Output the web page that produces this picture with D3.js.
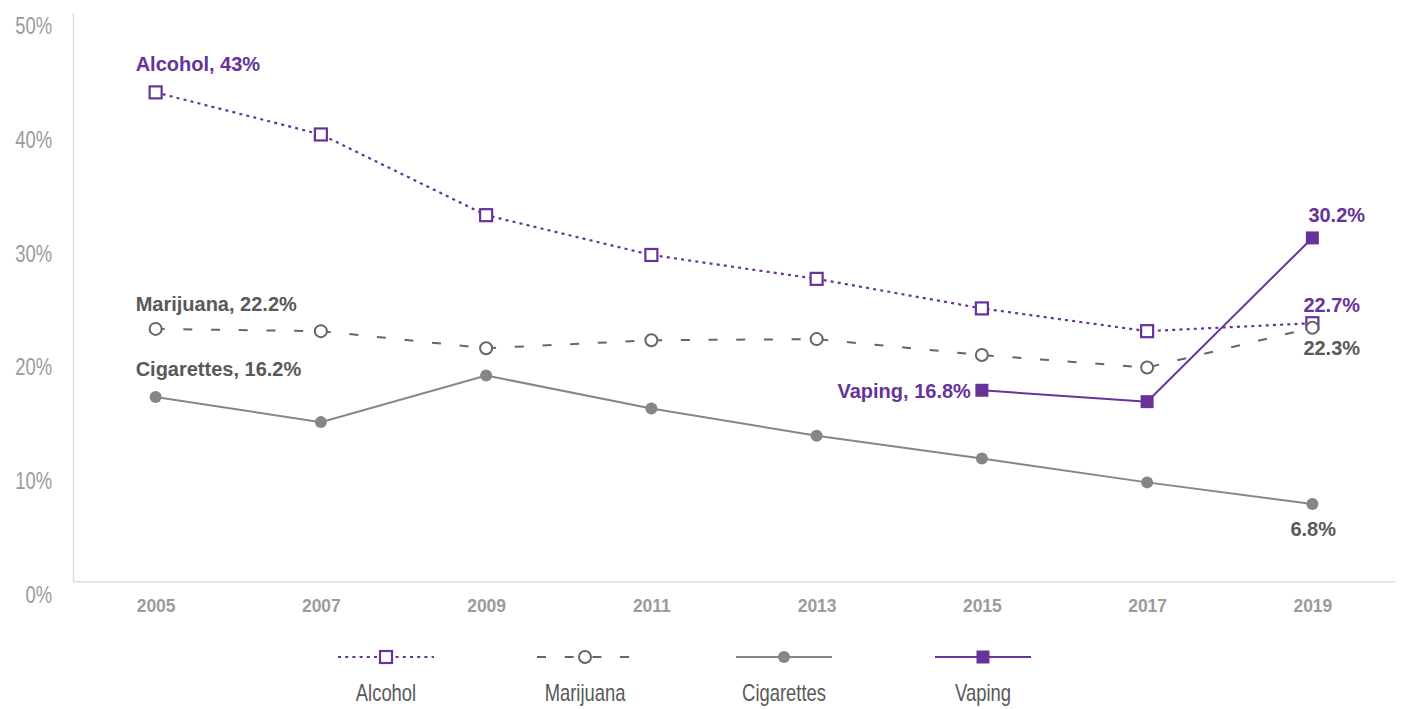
<!DOCTYPE html>
<html>
<head>
<meta charset="utf-8">
<script src="https://cdn.jsdelivr.net/npm/d3@7"></script>
<style>
  html, body { margin: 0; padding: 0; background: #fff; }
  svg { display: block; }
</style>
</head>
<body>
<svg id="chart" width="1406" height="709"></svg>
<script>
// Survey years and share of students reporting use (%)
const years = ["2005", "2007", "2009", "2011", "2013", "2015", "2017", "2019"];
const alcohol    = [43.0, 39.3, 32.2, 28.7, 26.6, 24.0, 22.0, 22.7];
const marijuana  = [22.2, 22.0, 20.5, 21.2, 21.3, 19.9, 18.8, 22.3];
const cigarettes = [16.2, 14.0, 18.1, 15.2, 12.8, 10.8, 8.7, 6.8];
const vaping     = [null, null, null, null, null, 16.8, 15.8, 30.2];
const yTicks = [0, 10, 20, 30, 40, 50];
const seriesNames = ["Alcohol", "Marijuana", "Cigarettes", "Vaping"];

const PURPLE = "#663399";
const DARK = "#595959";
const CIG = "#86868a";
const MJ = "#666666";
const AXIS = "#dddddd";
const TICK = "#9b9b9b";
const NARROW = 0.8; // horizontal squeeze for the condensed labels

const svg = d3.select("#chart");

const x = d3.scalePoint().domain(years).range([73, 1395]).padding(0.5);
const y = d3.scaleLinear().domain([0, 50]).range([581.3, 12.8]);

// Axes
const yAxis = svg.append("g").attr("transform", "translate(73,0)")
  .call(d3.axisLeft(y).tickValues(yTicks).tickSize(0).tickSizeOuter(0).tickPadding(0)
    .tickFormat(d => d + "%"));
yAxis.select(".domain").attr("stroke", AXIS).attr("stroke-width", 1.5);
yAxis.selectAll(".tick text")
  .attr("x", null).attr("dy", null)
  .attr("y", 21)
  .attr("transform", `translate(-21,0) scale(${NARROW},1)`)
  .attr("fill", TICK)
  .style("font-family", "'Liberation Sans', Arial, sans-serif")
  .style("font-size", "23px");

const xAxis = svg.append("g").attr("transform", "translate(0,581.3)")
  .call(d3.axisBottom(x).tickSize(0).tickSizeOuter(0).tickPadding(18));
xAxis.select(".domain").attr("stroke", AXIS).attr("stroke-width", 1.5);
xAxis.selectAll("text")
  .attr("fill", TICK)
  .style("font-family", "'Liberation Sans', Arial, sans-serif")
  .style("font-weight", "bold")
  .style("font-size", "17.5px");

// Series definitions
const series = [
  { name: "Alcohol", values: alcohol, color: PURPLE, dash: "3,4.2", width: 2.2, marker: "square" },
  { name: "Marijuana", values: marijuana, color: MJ, dash: "9,18.7", width: 2, marker: "circle" },
  { name: "Cigarettes", values: cigarettes, color: CIG, dash: null, width: 2, marker: "dot" },
  { name: "Vaping", values: vaping, color: PURPLE, dash: null, width: 2, marker: "filledSquare" }
];

const line = d3.line()
  .defined(d => d.v != null)
  .x(d => x(d.year))
  .y(d => y(d.v));

function drawMarker(g, type, cx, cy, color) {
  if (type === "square") {
    g.append("rect").attr("x", cx - 6).attr("y", cy - 6).attr("width", 12).attr("height", 12)
      .attr("fill", "#fff").attr("stroke", color).attr("stroke-width", 2.2);
  } else if (type === "filledSquare") {
    g.append("rect").attr("x", cx - 6.5).attr("y", cy - 6.5).attr("width", 13).attr("height", 13)
      .attr("fill", color);
  } else if (type === "circle") {
    g.append("circle").attr("cx", cx).attr("cy", cy).attr("r", 6)
      .attr("fill", "#fff").attr("stroke", color).attr("stroke-width", 2);
  } else {
    g.append("circle").attr("cx", cx).attr("cy", cy).attr("r", 6).attr("fill", color);
  }
}

series.forEach(s => {
  const pts = years.map((yr, i) => ({ year: yr, v: s.values[i] }));
  const g = svg.append("g");
  g.append("path").datum(pts)
    .attr("d", line)
    .attr("fill", "none")
    .attr("stroke", s.color)
    .attr("stroke-width", s.width)
    .attr("stroke-dasharray", s.dash);
  pts.filter(p => p.v != null).forEach(p => drawMarker(g, s.marker, x(p.year), y(p.v), s.color));
});

// Value annotations
const labelFont = "'Liberation Sans', Arial, sans-serif";
const fmt = v => (Number.isInteger(v) ? v : v.toFixed(1)) + "%";
const annotations = [
  { text: "Alcohol, " + fmt(alcohol[0]), year: years[0], v: alcohol[0], dx: -20, dy: -21, anchor: "start", color: PURPLE },
  { text: "Marijuana, " + fmt(marijuana[0]), year: years[0], v: marijuana[0], dx: -20, dy: -18, anchor: "start", color: DARK },
  { text: "Cigarettes, " + fmt(cigarettes[0]), year: years[0], v: cigarettes[0], dx: -20, dy: -21, anchor: "start", color: DARK },
  { text: "Vaping, " + fmt(vaping[5]), year: years[5], v: vaping[5], dx: -11, dy: 8, anchor: "end", color: PURPLE },
  { text: fmt(vaping[7]), year: years[7], v: vaping[7], dx: -4, dy: -16, anchor: "start", color: PURPLE },
  { text: fmt(alcohol[7]), year: years[7], v: alcohol[7], dx: -9, dy: -11, anchor: "start", color: PURPLE },
  { text: fmt(marijuana[7]), year: years[7], v: marijuana[7], dx: -9, dy: 27, anchor: "start", color: DARK },
  { text: fmt(cigarettes[7]), year: years[7], v: cigarettes[7], dx: -22, dy: 32, anchor: "start", color: DARK }
];
svg.append("g").selectAll("text").data(annotations).join("text")
  .attr("x", d => x(d.year) + d.dx)
  .attr("y", d => y(d.v) + d.dy)
  .attr("text-anchor", d => d.anchor)
  .attr("fill", d => d.color)
  .style("font-family", labelFont)
  .style("font-weight", "bold")
  .style("font-size", "20px")
  .text(d => d.text);

// Legend
const legendX = d3.scalePoint().domain(seriesNames).range([386, 983]);
const legend = svg.append("g");
series.forEach(s => {
  const cx = legendX(s.name);
  const g = legend.append("g");
  g.append("line")
    .attr("x1", cx - 48).attr("x2", cx + 48)
    .attr("y1", 657).attr("y2", 657)
    .attr("stroke", s.color).attr("stroke-width", s.width)
    .attr("stroke-dasharray", s.dash);
  drawMarker(g, s.marker, cx, 657, s.color);
  g.append("text")
    .attr("transform", `translate(${cx},701) scale(${NARROW},1)`)
    .attr("text-anchor", "middle")
    .attr("fill", DARK)
    .style("font-family", "'Liberation Sans', Arial, sans-serif")
    .style("font-size", "23px")
    .text(s.name);
});
</script>
</body>
</html>
